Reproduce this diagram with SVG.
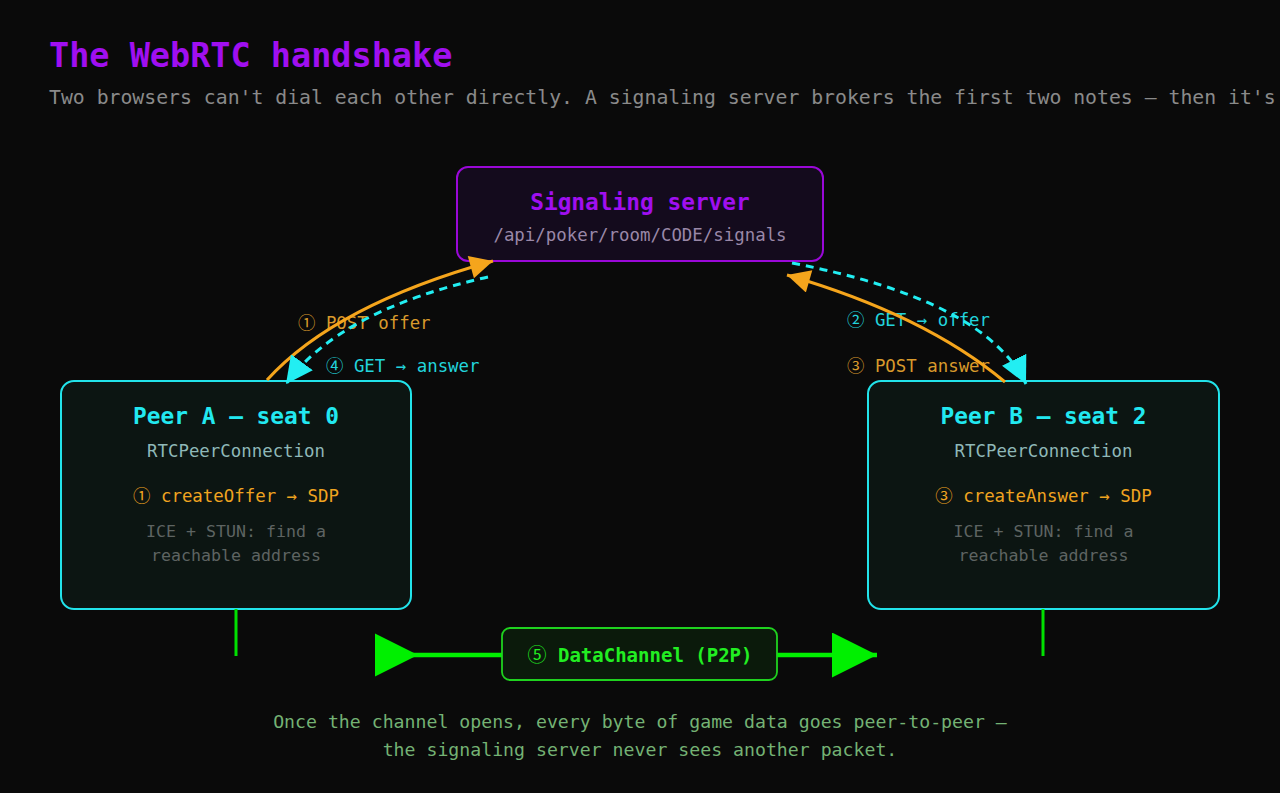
<svg xmlns="http://www.w3.org/2000/svg" width="1280" height="793" viewBox="0 0 1280 793">
<defs>
<style>
text{font-family:"DejaVu Sans Mono","Liberation Mono",monospace;}
.n{font-family:"Noto Sans CJK SC","DejaVu Sans",sans-serif;font-weight:normal;}
.title{font-size:33.5px;font-weight:bold;fill:#a00ff0;}
.sub{font-size:19.8px;fill:#8a8a8a;}
.h{font-size:22.8px;font-weight:bold;text-anchor:middle;}
.body{font-size:17.4px;text-anchor:middle;}
.small{font-size:16.6px;text-anchor:middle;fill:#5e6462;}
.lbl{font-size:17.4px;}
.peer{fill:#0c1512;stroke:#22e3ea;stroke-width:2;}
.orange{fill:none;stroke:#f5a51c;stroke-width:3;}
.cyan{fill:none;stroke:#22eef2;stroke-width:3;stroke-dasharray:8 6;}
.foot{font-size:18.2px;text-anchor:middle;fill:#74b274;}
</style>
<marker id="ao" viewBox="0 0 10 10" refX="10" refY="5" markerWidth="26" markerHeight="23" markerUnits="userSpaceOnUse" orient="auto"><path d="M0,0 L10,5 L0,10 z" fill="#f5a51c"/></marker>
<marker id="ac" viewBox="0 0 10 10" refX="10" refY="5" markerWidth="27" markerHeight="27" markerUnits="userSpaceOnUse" orient="auto"><path d="M0,0 L10,5 L0,10 z" fill="#22eef2"/></marker>
<marker id="gs" viewBox="0 0 10 10" refX="0" refY="5" markerWidth="43" markerHeight="45" markerUnits="userSpaceOnUse" orient="auto"><path d="M0,0 L10,5 L0,10 z" fill="#00f000"/></marker>
<marker id="ge" viewBox="0 0 10 10" refX="10" refY="5" markerWidth="45" markerHeight="45" markerUnits="userSpaceOnUse" orient="auto"><path d="M0,0 L10,5 L0,10 z" fill="#00f000"/></marker>
</defs>
<rect width="1280" height="793" fill="#0a0a0a"/>
<text class="title" x="49" y="67">The WebRTC handshake</text>
<text class="sub" x="49" y="104">Two browsers can't dial each other directly. A signaling server brokers the first two notes — then it's</text>

<g id="labels">
<text class="lbl" x="298" y="329" fill="#d99a2c"><tspan class="n">①</tspan> POST offer</text>
<text class="lbl" x="326" y="372" fill="#22d4dc"><tspan class="n">④</tspan> GET → answer</text>
<text class="lbl" x="847" y="326" fill="#22d4dc"><tspan class="n">②</tspan> GET → offer</text>
<text class="lbl" x="847" y="372" fill="#d99a2c"><tspan class="n">③</tspan> POST answer</text>
</g>

<g id="server">
<rect x="457" y="167" width="366" height="94" rx="11" fill="#140b1d" stroke="#9a08d8" stroke-width="2"/>
<text class="h" x="640" y="210" fill="#a00ff0">Signaling server</text>
<text class="body" x="640" y="241" fill="#9a88a8">/api/poker/room/CODE/signals</text>
</g>

<g id="peerA">
<rect class="peer" x="61" y="381" width="350" height="228" rx="13"/>
<text class="h" x="236" y="424" fill="#22e8f0">Peer A — seat 0</text>
<text class="body" x="236" y="457" fill="#8fb8b8">RTCPeerConnection</text>
<text class="body" x="236" y="502" fill="#f0a420"><tspan class="n">①</tspan> createOffer → SDP</text>
<text class="small" x="236" y="537">ICE + STUN: find a</text>
<text class="small" x="236" y="561">reachable address</text>
</g>

<g id="peerB">
<rect class="peer" x="868" y="381" width="351" height="228" rx="13"/>
<text class="h" x="1043.5" y="424" fill="#22e8f0">Peer B — seat 2</text>
<text class="body" x="1043.5" y="457" fill="#8fb8b8">RTCPeerConnection</text>
<text class="body" x="1043.5" y="502" fill="#f0a420"><tspan class="n">③</tspan> createAnswer → SDP</text>
<text class="small" x="1043.5" y="537">ICE + STUN: find a</text>
<text class="small" x="1043.5" y="561">reachable address</text>
</g>

<g id="connectors">
<path class="orange" d="M267,380 Q335,305 493,261" marker-end="url(#ao)"/>
<path class="cyan" d="M488,277 Q340,310 286,384" marker-end="url(#ac)"/>
<path class="cyan" d="M792,263 Q985,300 1026,384" marker-end="url(#ac)"/>
<path class="orange" d="M1005,382 Q925,315 787,275" marker-end="url(#ao)"/>
<line x1="236" y1="609" x2="236" y2="656" stroke="#00e000" stroke-width="3"/>
<line x1="1043" y1="609" x2="1043" y2="656" stroke="#00e000" stroke-width="3"/>
<path d="M375,655 L877,655" stroke="#00f000" stroke-width="4.5" fill="none" marker-start="url(#gs)" marker-end="url(#ge)"/>
</g>

<g id="datachannel">
<rect x="502" y="628" width="275" height="52" rx="8" fill="#0b1a0b" stroke="#1fd21f" stroke-width="1.8"/>
<text x="640" y="662" text-anchor="middle" font-size="19px" font-weight="bold" fill="#22ee22"><tspan class="n">⑤</tspan> DataChannel (P2P)</text>
</g>

<text class="foot" x="640" y="728">Once the channel opens, every byte of game data goes peer-to-peer —</text>
<text class="foot" x="640" y="756">the signaling server never sees another packet.</text>
</svg>
